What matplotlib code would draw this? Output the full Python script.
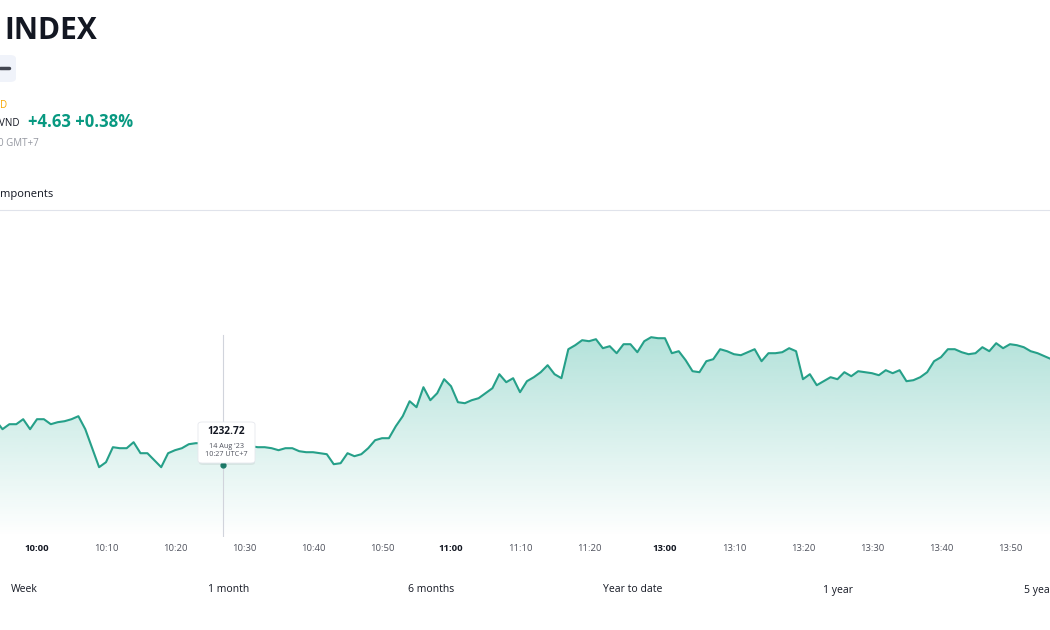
import numpy as np
import matplotlib
matplotlib.use("Agg")
import matplotlib.pyplot as plt
from matplotlib.patches import FancyBboxPatch, Polygon

# minute-by-minute index values (morning 9:54-11:30, afternoon 13:00-13:56)
morning_start, morning_end = (9, 54), (11, 30)
afternoon_start, afternoon_end = (13, 0), (13, 56)
morning_vals = [
    1237.2, 1236.3, 1236.8, 1236.8, 1237.3, 1236.3, 1237.3, 1237.3, 1236.8, 1237.0,
    1237.1, 1237.3, 1237.6, 1236.3, 1234.4, 1232.5, 1233.0, 1234.5, 1234.4, 1234.4,
    1235.0, 1233.9, 1233.9, 1233.2, 1232.5, 1233.9, 1234.2, 1234.4, 1234.8, 1234.9,
    1234.9, 1234.8, 1234.7, 1232.72, 1234.6, 1234.6, 1234.6, 1234.6, 1234.5, 1234.5,
    1234.4, 1234.2, 1234.4, 1234.4, 1234.1, 1234.0, 1234.0, 1233.9, 1233.8, 1232.8,
    1232.9, 1233.9, 1233.6, 1233.8, 1234.4, 1235.2, 1235.4, 1235.4, 1236.6, 1237.6,
    1239.1, 1238.5, 1240.5, 1239.2, 1239.9, 1241.3, 1240.6, 1239.0, 1238.9, 1239.2,
    1239.4, 1239.9, 1240.4, 1241.8, 1241.0, 1241.4, 1240.0, 1241.1, 1241.5, 1242.0,
    1242.7, 1241.8, 1241.4, 1244.3, 1244.7, 1245.2, 1245.1, 1245.3, 1244.4, 1244.6,
    1243.9, 1244.8, 1244.8, 1244.0, 1245.1, 1245.5, 1245.4,
]
afternoon_vals = [
    1245.4, 1243.9, 1244.1, 1243.2, 1242.1, 1242.0, 1243.1, 1243.3, 1244.3, 1244.1,
    1243.8, 1243.7, 1244.0, 1244.3, 1243.1, 1243.9, 1243.9, 1244.0, 1244.4, 1244.1,
    1241.3, 1241.8, 1240.7, 1241.1, 1241.5, 1241.3, 1242.0, 1241.6, 1242.1, 1242.0,
    1241.9, 1241.7, 1242.2, 1241.9, 1242.2, 1241.1, 1241.2, 1241.5, 1242.0, 1243.1,
    1243.5, 1244.3, 1244.3, 1244.0, 1243.8, 1243.9, 1244.5, 1244.1, 1244.9, 1244.4,
    1244.8, 1244.7, 1244.5, 1244.1, 1243.9, 1243.6, 1243.3,
]
tick_labels = ["10:00", "10:10", "10:20", "10:30", "10:40", "10:50", "11:00", "11:10",
               "11:20", "13:00", "13:10", "13:20", "13:30", "13:40", "13:50"]
range_buttons = ["Week", "1 month", "6 months", "Year to date", "1 year", "5 years"]
hover_time = "10:27"


def minutes(start, end):
    out = []
    h, m = start
    while (h, m) <= end:
        out.append(f"{h}:{m:02d}")
        m += 1
        if m == 60:
            h, m = h + 1, 0
    return out


times = minutes(morning_start, morning_end) + minutes(afternoon_start, afternoon_end)
values = np.array(morning_vals + afternoon_vals)
x = np.arange(len(values))

W, H = 1050, 630
fig = plt.figure(figsize=(10.5, 6.3), dpi=100)
plt.rcParams['font.family'] = ['Open Sans', 'DejaVu Sans']


def fx(px):
    return px / W


def fy(py):
    return 1 - py / H


green = "#22ab94"
line_col = "#26a089"
ax = fig.add_axes([0, fy(537), 1, fy(215) - fy(537)])
ax.set_xlim(0.64, 152.8)
ax.set_ylim(1225.52, 1257.72)
for s in ax.spines.values():
    s.set_visible(False)
ax.set_yticks([])

# gradient fill under the line
ymin, ymax = ax.get_ylim()
poly_pts = np.column_stack([np.r_[x[0], x, x[-1]], np.r_[ymin, values, ymin]])
poly = Polygon(poly_pts, closed=True, facecolor="none", edgecolor="none")
ax.add_patch(poly)
grad = np.zeros((256, 1, 4))
grad[:, 0, :3] = matplotlib.colors.to_rgb(green)
grad[:, 0, 3] = np.linspace(0.34, 0.0, 256)
top = values.max()
im = ax.imshow(grad, extent=[x[0], x[-1], ymin, top], aspect="auto", origin="upper", zorder=1)
im.set_clip_path(poly)
ax.plot(x, values, color=line_col, lw=1.5, zorder=3)

# crosshair + hovered point
hi = times.index(hover_time)
ax.plot([hi, hi], [ymin, 1245.7], color="#d1d4dc", lw=0.8, zorder=2)
ax.plot(hi, values[hi], "o", color="#1b7a68", ms=3.5, zorder=4)

# time axis
tick_pos = [times.index(t) for t in tick_labels]
ax.set_xticks(tick_pos)
ax.set_xticklabels(tick_labels)
ax.tick_params(axis="x", length=0, pad=5, labelsize=6.8, labelcolor="#50535e")
for lab in ax.get_xticklabels():
    if lab.get_text().endswith(":00"):
        lab.set_fontweight("bold")
        lab.set_color("#131722")

# tooltip
shadow = FancyBboxPatch((fx(199), fy(465)), fx(56), fy(423) - fy(465),
                        boxstyle="round,pad=0,rounding_size=0.004", transform=fig.transFigure,
                        facecolor="#000000", alpha=0.06, edgecolor="none", zorder=5)
box = FancyBboxPatch((fx(198), fy(463)), fx(57), fy(422) - fy(463),
                     boxstyle="round,pad=0,rounding_size=0.004", transform=fig.transFigure,
                     facecolor="white", edgecolor="#e6e8ee", lw=0.6, zorder=6)
fig.patches.extend([shadow, box])
fig.text(fx(226.5), fy(432), f"{values[hi]:.2f}", ha="center", va="center",
         fontsize=7.3, fontweight="bold", color="#131722", zorder=7)
fig.text(fx(226.5), fy(446), "14 Aug '23", ha="center", va="center",
         fontsize=5.2, color="#50535e", zorder=7)
fig.text(fx(226.5), fy(455), f"{hover_time} UTC+7", ha="center", va="center",
         fontsize=5.2, color="#50535e", zorder=7)

# header
fig.text(fx(4), fy(31), "INDEX", ha="left", va="center", fontsize=21.5,
         fontweight="bold", color="#131722")
badge = FancyBboxPatch((fx(-10), fy(82)), fx(26), fy(55) - fy(82),
                       boxstyle="round,pad=0,rounding_size=0.006", transform=fig.transFigure,
                       facecolor="#f0f3fa", edgecolor="none")
fig.patches.append(badge)
fig.lines.append(plt.Line2D([fx(0), fx(9)], [fy(68), fy(68)], transform=fig.transFigure,
                            color="#434651", lw=2.5, solid_capstyle="round"))
fig.text(fx(0), fy(106), "D", ha="left", va="center", fontsize=7, color="#f7a600")
fig.text(fx(-1), fy(123), "VND", ha="left", va="center", fontsize=7, color="#131722")
fig.text(fx(28), fy(122), "+4.63 +0.38%", ha="left", va="center", fontsize=12,
         fontweight="bold", color="#089981")
fig.text(fx(-2), fy(143), "0 GMT+7", ha="left", va="center", fontsize=7, color="#9598a1")
fig.text(fx(0), fy(195), "mponents", ha="left", va="center", fontsize=8, color="#131722")
fig.lines.append(plt.Line2D([0, 1], [fy(210), fy(210)], transform=fig.transFigure,
                            color="#e0e3eb", lw=0.8))

# range buttons (last one runs off the right edge, as in the screenshot)
for lab, px in zip(range_buttons, [11, 208, 408, 603, 823, 1024]):
    fig.text(fx(px), fy(590), lab, ha="left", va="center", fontsize=7.5, color="#131722")

fig.savefig("out.png", dpi=100, facecolor="white")
